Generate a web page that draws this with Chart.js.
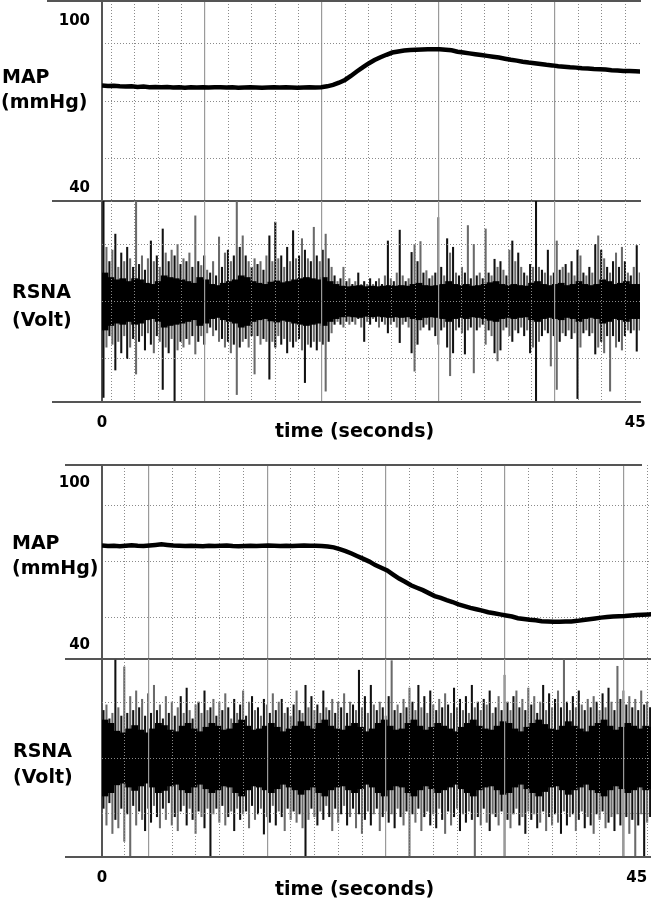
<!DOCTYPE html>
<html>
<head>
<meta charset="utf-8">
<script src="https://cdn.jsdelivr.net/npm/chart.js@4.4.1/dist/chart.umd.min.js"></script>
<style>
html,body{margin:0;padding:0;background:#fff;}
#wrap{position:relative;width:652px;height:900px;overflow:hidden;background:#fff;}
.pane{position:absolute;left:0;width:652px;}
.lbl{position:absolute;font-family:"DejaVu Sans";font-weight:bold;font-size:19px;line-height:19px;color:#000;white-space:nowrap;}
</style>
</head>
<body>
<div id="wrap">
  <div class="pane" style="top:0;height:202px"><canvas id="mapTop"></canvas></div>
  <div class="pane" style="top:201px;height:244px"><canvas id="rsnaTop"></canvas></div>
  <div class="pane" style="top:464px;height:196px"><canvas id="mapBottom"></canvas></div>
  <div class="pane" style="top:659px;height:241px"><canvas id="rsnaBottom"></canvas></div>

  <div class="lbl" style="left:2px;top:67px">MAP</div>
  <div class="lbl" style="left:1px;top:92px">(mmHg)</div>
  <div class="lbl" style="left:12px;top:282px">RSNA</div>
  <div class="lbl" style="left:12px;top:310px">(Volt)</div>
  <div class="lbl" style="left:275px;top:421px">time (seconds)</div>

  <div class="lbl" style="left:12px;top:533px">MAP</div>
  <div class="lbl" style="left:12px;top:558px">(mmHg)</div>
  <div class="lbl" style="left:13px;top:741px">RSNA</div>
  <div class="lbl" style="left:13px;top:767px">(Volt)</div>
  <div class="lbl" style="left:275px;top:879px">time (seconds)</div>
</div>
<script>
// ---------------- DATA ----------------
const xTickLabels = [0, 45];          // seconds
const mapTickLabels = [40, 100];      // mmHg
const mapStep = 0.5;                  // s between MAP samples
const coreStep = 0.5;                 // s between RSNA envelope samples
const spikeStep = 0.25;               // s between RSNA spike samples

// vertical grid (seconds)
const topGridMajor = [8.69, 18.54, 28.38, 38.23];
const topGridMinor = [0.81, 2.78, 4.75, 6.72, 10.66, 12.63, 14.6, 16.57, 20.51, 22.48, 24.45, 26.42, 30.35, 32.32, 34.29, 36.26, 40.2, 42.17, 44.14];
const botGridMajor = [3.9, 13.9, 23.9, 33.9, 43.9];
const botGridMinor = [1.9, 5.9, 7.9, 9.9, 11.9, 15.9, 17.9, 19.9, 21.9, 25.9, 27.9, 29.9, 31.9, 35.9, 37.9, 39.9, 41.9, 45.9];
// horizontal grid
const mapTopGrid = [50.5, 70.9, 91.7];
const mapBottomGrid = [50.2, 71.0, 91.65];
const rsnaGrid = [-1, 0, 1];

// MAP (mmHg), every 0.5 s from 0 s
const mapTopValues = [
  76.8,76.6,76.7,76.5,76.4,76.5,76.3,76.4,76.2,76.3,
  76.2,76.3,76.1,76.2,76.0,76.2,76.1,76.2,76.1,76.2,
  76.2,76.1,76.2,76.0,76.1,76.2,76.1,76.0,76.1,76.2,
  76.1,76.2,76.1,76.0,76.1,76.2,76.1,76.2,76.5,77.0,
  77.8,78.8,80.2,81.8,83.3,84.7,85.9,86.9,87.8,88.6,
  89.0,89.3,89.5,89.6,89.7,89.8,89.8,89.8,89.6,89.4,
  88.9,88.6,88.3,88.0,87.7,87.4,87.1,86.8,86.4,86.0,
  85.7,85.3,85.0,84.8,84.5,84.2,84.0,83.7,83.5,83.3,
  83.2,83.0,82.9,82.7,82.6,82.5,82.3,82.2,82.0,82.0,
  81.9,81.8
];
const mapBottomValues = [
  77.0,76.8,76.9,76.7,76.9,77.1,76.9,76.8,77.0,77.2,
  77.4,77.2,77.0,76.9,76.8,76.9,76.8,76.7,76.9,76.8,
  76.9,77.0,76.8,76.7,76.8,76.9,76.8,76.9,77.0,76.9,
  76.8,76.9,76.8,76.9,77.0,76.9,76.9,76.8,76.6,76.3,
  75.6,74.9,74.0,73.0,72.0,71.0,69.7,68.7,67.7,66.2,
  64.7,63.5,62.2,61.3,60.4,59.3,58.2,57.5,56.7,56.0,
  55.1,54.5,53.8,53.3,52.8,52.2,51.8,51.4,51.0,50.6,
  50.0,49.7,49.4,49.2,48.9,48.8,48.7,48.7,48.8,48.8,
  49.0,49.3,49.6,49.9,50.2,50.4,50.6,50.7,50.8,51.0,
  51.2,51.3,51.4,51.5
];

// RSNA dense band half-height (Volt), every 0.5 s
const rsnaTopCore = [
  0.5,0.42,0.38,0.4,0.35,0.4,0.38,0.32,0.3,0.35,
  0.45,0.42,0.4,0.38,0.35,0.32,0.42,0.38,0.3,0.28,
  0.32,0.35,0.38,0.45,0.42,0.35,0.32,0.3,0.34,0.36,
  0.33,0.35,0.38,0.4,0.42,0.4,0.38,0.42,0.35,0.3,
  0.27,0.26,0.27,0.28,0.26,0.27,0.26,0.27,0.28,0.27,
  0.28,0.27,0.3,0.32,0.28,0.27,0.28,0.3,0.35,0.3,
  0.28,0.3,0.27,0.28,0.3,0.33,0.35,0.3,0.28,0.3,
  0.28,0.27,0.32,0.35,0.3,0.28,0.3,0.32,0.28,0.3,
  0.35,0.3,0.28,0.3,0.38,0.35,0.3,0.32,0.35,0.3,
  0.3
];
// RSNA spikes (Volt), every 0.25 s: upward peak and downward peak magnitude
const rsnaTopUp = [
  1.76,0.95,0.7,0.9, 1.18,0.6,0.85,0.7,
  0.95,0.75,0.6,1.76, 0.65,0.8,0.55,0.75,
  1.06,0.7,0.8,0.6, 1.27,0.85,0.7,0.9,
  0.8,1.0,0.65,0.75, 0.7,0.85,0.6,1.5,
  0.7,0.63,0.8,0.55, 0.5,0.7,0.45,1.13,
  0.6,0.85,0.9,0.7, 0.8,1.76,0.95,1.15,
  0.8,0.7,0.6,0.75, 0.65,0.7,0.55,0.8,
  1.15,0.7,1.39,0.75, 0.8,0.6,0.95,0.7,
  1.24,0.75,0.8,1.1, 0.9,0.75,0.7,1.3,
  0.8,0.7,0.9,1.18, 0.75,0.6,0.45,0.35,
  0.4,0.6,0.35,0.4, 0.3,0.35,0.5,0.3,
  0.35,0.3,0.4,0.3, 0.35,0.4,0.3,0.45,
  1.06,0.4,0.35,0.5, 1.25,0.45,0.35,0.4,
  0.86,1.0,0.7,1.05, 0.5,0.54,0.4,0.45,
  0.5,1.47,0.6,0.45, 1.1,0.85,0.95,0.5,
  0.45,0.6,0.5,1.33, 0.4,1.0,0.45,0.5,
  0.4,1.27,0.5,0.45, 0.74,0.6,0.7,0.55,
  0.45,0.9,1.06,0.7, 0.85,0.6,0.5,0.45,
  0.65,0.6,1.76,0.6, 0.55,0.5,0.9,0.45,
  0.5,1.06,0.55,0.6, 0.65,0.5,0.7,0.45,
  0.9,0.8,0.5,0.45, 0.6,0.5,1.0,1.15,
  0.9,0.75,0.6,0.5, 0.7,0.85,0.6,0.95,
  0.7,0.5,0.45,0.6, 0.98,0.5
];
const rsnaTopDown = [
  1.68,0.8,0.6,0.75, 1.2,0.7,0.9,0.6,
  1.0,0.8,0.65,1.27, 0.7,0.6,0.85,0.55,
  0.75,0.9,0.6,0.7, 1.54,0.8,0.9,0.65,
  1.74,0.85,0.7,0.8, 0.65,0.75,0.6,0.92,
  0.7,0.6,0.75,0.55, 0.45,0.6,0.5,0.7,
  0.65,0.8,0.7,0.9, 0.75,1.63,0.8,0.7,
  0.65,0.8,0.6,1.27, 0.6,0.75,0.65,0.7,
  1.36,0.7,0.8,0.6, 0.75,0.65,0.9,0.7,
  0.8,0.7,0.65,0.85, 1.42,0.75,0.8,0.7,
  0.85,0.7,0.75,1.57, 0.7,0.55,0.4,0.35,
  0.4,0.45,0.35,0.4, 0.35,0.4,0.3,0.45,
  0.7,0.35,0.4,0.3, 0.35,0.45,0.35,0.4,
  0.55,0.4,0.35,0.45, 0.72,0.4,0.35,0.45,
  0.9,1.22,0.75,0.5, 0.45,0.4,0.5,0.45,
  0.6,0.75,0.5,0.45, 0.8,1.3,0.9,0.5,
  0.45,0.55,0.92,0.5, 0.45,1.25,0.5,0.45,
  0.4,0.75,0.5,0.6, 0.9,1.04,0.85,0.5,
  0.45,0.6,0.7,0.5, 0.55,0.45,0.6,0.5,
  0.9,0.8,1.76,0.7, 0.6,0.5,0.55,1.13,
  0.6,1.54,0.7,0.55, 0.6,0.5,0.65,0.55,
  1.7,0.8,0.55,0.5, 0.6,0.55,0.92,0.8,
  0.7,0.9,0.6,1.57, 0.6,0.8,0.7,0.85,
  0.6,0.5,0.55,0.5, 0.87,0.5
];

const rsnaBottomCore = [
  0.68,0.62,0.48,0.45,0.52,0.58,0.5,0.45,0.52,0.62,
  0.58,0.5,0.47,0.57,0.62,0.52,0.47,0.55,0.62,0.57,
  0.5,0.52,0.62,0.68,0.57,0.5,0.52,0.57,0.62,0.55,
  0.47,0.52,0.57,0.65,0.57,0.52,0.62,0.68,0.57,0.52,
  0.5,0.57,0.62,0.55,0.47,0.52,0.62,0.68,0.57,0.5,
  0.52,0.62,0.68,0.57,0.5,0.55,0.62,0.57,0.52,0.47,
  0.55,0.62,0.68,0.57,0.52,0.5,0.57,0.65,0.62,0.52,
  0.47,0.55,0.62,0.68,0.6,0.52,0.5,0.57,0.65,0.57,
  0.52,0.47,0.57,0.62,0.68,0.57,0.5,0.55,0.62,0.57,
  0.52,0.57,0.55
];
const rsnaBottomUp = [
  0.85,0.95,0.7,0.8, 1.75,0.9,0.75,1.63,
  0.8,1.1,0.85,1.2, 0.9,1.05,0.75,1.15,
  0.8,1.3,0.85,0.95, 0.7,1.1,0.8,1.0,
  0.75,0.9,1.1,0.8, 1.25,0.85,0.7,0.95,
  1.0,0.8,1.2,0.85, 0.9,1.05,0.75,1.0,
  0.85,1.15,0.9,0.7, 1.05,0.8,0.95,1.2,
  0.75,1.0,1.1,0.85, 0.9,0.75,1.05,0.95,
  0.8,1.15,0.85,1.0, 1.05,0.8,0.9,0.75,
  0.95,1.2,0.85,0.8, 1.3,0.9,1.1,0.85,
  0.95,0.8,1.2,0.9, 0.85,1.05,0.8,1.0,
  0.9,1.15,0.8,1.0, 0.95,0.85,1.57,0.9,
  1.1,0.8,1.3,0.95, 0.85,1.0,0.9,0.75,
  1.1,1.74,0.85,0.95, 0.8,1.05,0.9,1.25,
  1.0,0.85,1.3,0.9, 1.1,0.8,1.2,0.95,
  0.85,1.05,0.9,1.15, 0.95,0.8,1.25,0.9,
  1.05,0.85,1.1,0.8, 1.3,0.9,1.0,0.85,
  1.05,0.95,1.2,0.8, 0.9,1.1,0.85,1.48,
  1.0,0.85,1.1,1.2, 0.9,1.05,0.85,1.25,
  0.95,1.1,0.8,1.0, 1.3,0.85,1.15,0.9,
  1.05,1.2,0.9,1.76, 1.0,0.85,1.1,0.9,
  1.2,0.95,0.85,1.05, 0.9,1.1,1.0,0.85,
  1.15,0.9,1.25,1.0, 0.85,1.64,1.05,1.2,
  0.95,1.1,0.9,1.05, 0.85,1.2,0.95,1.0,
  0.9,1.1
];
const rsnaBottomDown = [
  0.9,1.2,0.8,1.35, 1.1,1.25,0.9,1.49,
  1.0,1.77,0.85,1.2, 0.95,1.1,1.3,0.9,
  1.15,0.85,1.05,1.25, 0.9,1.1,0.8,1.2,
  1.05,1.3,0.95,0.85, 1.2,0.9,1.1,1.35,
  0.95,1.05,1.25,0.9, 1.77,1.0,0.9,1.15,
  0.85,1.2,1.05,0.95, 1.3,0.9,1.1,1.0,
  0.95,1.25,0.85,1.1, 1.0,0.9,1.36,1.05,
  1.15,0.85,1.2,0.95, 1.05,1.3,0.9,1.1,
  0.95,1.15,1.0,1.25, 1.77,1.1,0.9,1.05,
  1.2,0.95,1.1,0.85, 1.05,1.3,0.9,1.15,
  1.0,0.85,1.2,1.05, 0.9,1.25,1.0,1.35,
  1.1,0.95,1.2,1.0, 0.9,1.3,1.05,0.95,
  1.15,1.0,1.25,0.9, 1.05,1.2,0.95,1.77,
  1.0,1.15,0.9,1.3, 1.05,0.95,1.2,1.0,
  1.25,0.9,1.1,1.35, 0.95,1.2,1.05,0.9,
  1.3,1.0,1.15,0.95, 1.1,1.77,1.05,1.2,
  0.9,1.15,1.3,1.0, 1.05,1.2,0.95,1.77,
  1.1,1.25,1.0,0.9, 1.2,1.05,1.35,0.95,
  1.1,1.0,1.25,1.15, 0.95,1.3,1.05,1.2,
  1.0,1.15,1.35,0.95, 1.2,1.05,1.0,1.3,
  1.1,0.95,1.25,1.05, 1.2,1.35,1.0,1.1,
  0.95,1.25,1.15,1.05, 1.3,1.0,1.2,1.77,
  1.05,1.35,1.1,1.77, 1.2,1.0,1.77,1.15,
  1.05,1.2
];

// ---------------- CHARTS ----------------
const TICK_FONT = {family: 'DejaVu Sans', weight: 'bold', size: 15};
const FRAME_COLOR = '#555';
const DOT_COLOR = '#8a8a8a';
const SOLID_COLOR = '#9a9a9a';

const framePlugin = {
  id: 'frame',
  afterDraw(chart, args, opts) {
    const {ctx, chartArea: a} = chart;
    ctx.save();
    ctx.strokeStyle = FRAME_COLOR;
    ctx.lineWidth = 2;
    (opts.lines || []).forEach(l => {
      const y = l.edge === 'top' ? a.top : a.bottom;
      ctx.beginPath();
      ctx.moveTo(l.x1, y);
      ctx.lineTo(l.x2, y);
      ctx.stroke();
    });
    ctx.restore();
  }
};

function noPad(s) { s.paddingTop = 0; s.paddingBottom = 0; s.paddingLeft = 0; s.paddingRight = 0; }

function gridAxis(dir, min, max, values, color, width, dash, z) {
  return {
    type: 'linear', axis: dir, position: dir === 'x' ? 'bottom' : 'left',
    min, max, offset: false,
    afterBuildTicks(s) { s.ticks = values.map(v => ({value: v})); },
    afterFit(s) { if (dir === 'x') s.height = 0; else s.width = 0; noPad(s); },
    ticks: {display: false},
    grid: {display: true, color, lineWidth: width, drawTicks: false, offset: false, z},
    border: {display: false, dash}
  };
}

function xGrid(min, max, major, minor, z) {
  return {
    xg1: gridAxis('x', min, max, minor, DOT_COLOR, 1, [1, 2], z),
    xg2: gridAxis('x', min, max, major, SOLID_COLOR, 1.2, [], z)
  };
}

function mapChart(id, values, xMax, yMin, yMax, hGrid, major, minor, padRight, lines) {
  const data = values.map((v, i) => ({x: i * mapStep, y: v}));
  return new Chart(document.getElementById(id), {
    type: 'line',
    data: {datasets: [{data, borderColor: '#000', borderWidth: 4.5, pointRadius: 0, tension: 0, fill: false}]},
    plugins: [framePlugin],
    options: {
      responsive: true, maintainAspectRatio: false, animation: false, devicePixelRatio: 1,
      layout: {padding: {top: 1, bottom: 1, left: 0, right: padRight}},
      plugins: {legend: {display: false}, tooltip: {enabled: false}, frame: {lines}},
      scales: {
        x: {type: 'linear', min: 0, max: xMax, display: false},
        ...xGrid(0, xMax, major, minor, -1),
        y: {
          type: 'linear', position: 'left', min: yMin, max: yMax,
          afterBuildTicks(s) { s.ticks = mapTickLabels.map(v => ({value: v})); },
          afterFit(s) { s.width = 102; noPad(s); },
          ticks: {font: TICK_FONT, color: '#000', padding: 12},
          grid: {display: false, drawTicks: false},
          border: {display: true, color: FRAME_COLOR, width: 2}
        },
        yg: gridAxis('y', yMin, yMax, hGrid, DOT_COLOR, 1, [1, 2], -1)
      }
    }
  });
}

function rsnaChart(id, core, up, down, xMax, yLim, major, minor, padRight, lines) {
  const coreData = core.map((a, i) => ({x: i * coreStep + coreStep / 2, y: [-a, a]}));
  const spikeData = up.map((u, i) => ({x: i * spikeStep + spikeStep / 2, y: [-down[i], u]}));
  return new Chart(document.getElementById(id), {
    type: 'bar',
    data: {datasets: [
      {data: coreData, backgroundColor: '#000', borderWidth: 0, barThickness: 6.2, stack: 'r', order: 0},
      {data: spikeData, backgroundColor: c => (c.dataIndex % 2 === 0 ? '#111' : '#6a6a6a'),
       borderWidth: 0, barThickness: 1.4, stack: 'r', order: 1}
    ]},
    plugins: [framePlugin],
    options: {
      responsive: true, maintainAspectRatio: false, animation: false, devicePixelRatio: 1,
      layout: {padding: {top: 0, bottom: 0, left: 0, right: padRight}},
      plugins: {legend: {display: false}, tooltip: {enabled: false}, frame: {lines}},
      scales: {
        x: {
          type: 'linear', min: 0, max: xMax, offset: false, position: 'bottom',
          afterBuildTicks(s) { s.ticks = xTickLabels.map(v => ({value: v})); },
          afterFit(s) { s.height = 43; noPad(s); },
          ticks: {font: TICK_FONT, color: '#000', padding: 12, maxRotation: 0, autoSkip: false},
          grid: {display: false, drawTicks: false, offset: false},
          border: {display: false}
        },
        ...xGrid(0, xMax, major, minor, 1),
        y: {
          type: 'linear', position: 'left', min: -yLim, max: yLim, stacked: false,
          afterFit(s) { s.width = 102; noPad(s); },
          ticks: {display: false},
          grid: {display: false, drawTicks: false},
          border: {display: true, color: FRAME_COLOR, width: 2}
        },
        yg: gridAxis('y', -yLim, yLim, rsnaGrid, DOT_COLOR, 1, [1, 2], 1)
      }
    }
  });
}

mapChart('mapTop', mapTopValues, 45.4, 35.45, 107.05, mapTopGrid, topGridMajor, topGridMinor, 12,
  [{edge: 'top', x1: 47, x2: 641}, {edge: 'bottom', x1: 52, x2: 641}]);
rsnaChart('rsnaTop', rsnaTopCore, rsnaTopUp, rsnaTopDown, 45.4, 1.76, topGridMajor, topGridMinor, 12,
  [{edge: 'bottom', x1: 52, x2: 641}]);
mapChart('mapBottom', mapBottomValues, 46.2, 34.84, 106.87, mapBottomGrid, botGridMajor, botGridMinor, 1,
  [{edge: 'top', x1: 65, x2: 642}, {edge: 'bottom', x1: 65, x2: 651}]);
rsnaChart('rsnaBottom', rsnaBottomCore, rsnaBottomUp, rsnaBottomDown, 46.2, 1.77, botGridMajor, botGridMinor, 1,
  [{edge: 'bottom', x1: 65, x2: 651}]);
</script>
</body>
</html>
